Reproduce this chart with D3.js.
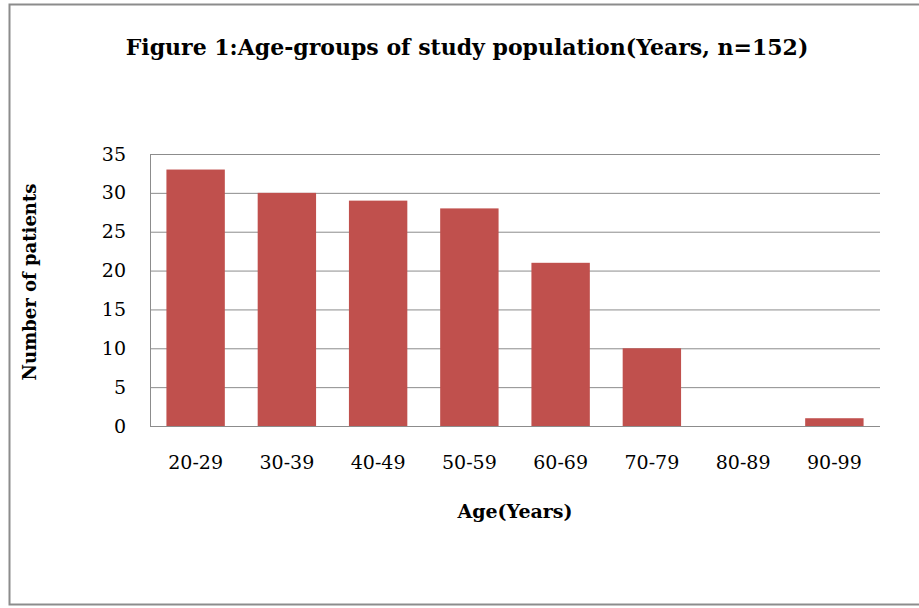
<!DOCTYPE html>
<html>
<head>
<meta charset="utf-8">
<script src="https://cdn.jsdelivr.net/npm/d3@7"></script>
<style>
  html, body { margin: 0; padding: 0; background: #fff; }
  svg { display: block; }
  text { font-family: "DejaVu Serif", "Liberation Serif", serif; fill: #000; }
</style>
</head>
<body>
<svg id="chart" width="919" height="608"></svg>
<script>
// data
const ageGroups = ["20-29", "30-39", "40-49", "50-59", "60-69", "70-79", "80-89", "90-99"];
const patients  = [33, 30, 29, 28, 21, 10, 0, 1];
const yTicks    = [0, 5, 10, 15, 20, 25, 30, 35];

const svg = d3.select("#chart");
const M = { top: 154, right: 39, bottom: 182, left: 150 };
const W = +svg.attr("width"), H = +svg.attr("height");
const innerW = W - M.left - M.right, innerH = H - M.top - M.bottom;

// outer frame (right edge runs off the picture)
svg.append("rect")
  .attr("x", 9.5).attr("y", 4.5).attr("width", 930).attr("height", 600)
  .attr("fill", "#fff").attr("stroke", "#8c8c8c").attr("stroke-width", 2);

svg.append("text")
  .attr("x", 467).attr("y", 55)
  .attr("text-anchor", "middle")
  .style("font-size", "22px").style("font-weight", "bold")
  .text("Figure 1:Age-groups of study population(Years, n=152)");

const g = svg.append("g").attr("transform", `translate(${M.left},${M.top})`);

const x = d3.scaleBand().domain(ageGroups).range([0, innerW]).paddingInner(0.36).paddingOuter(0.18);
const y = d3.scaleLinear().domain([0, 35]).range([innerH, 0]);

// gridlines
g.append("g")
  .call(d3.axisLeft(y).tickValues(yTicks).tickSize(-innerW).tickFormat(""))
  .call(a => a.select(".domain").remove())
  .selectAll("line").attr("stroke", "#8c8c8c");

// y labels
g.append("g")
  .call(d3.axisLeft(y).tickValues(yTicks).tickSize(0).tickPadding(24))
  .call(a => a.select(".domain").remove())
  .selectAll("text")
  .style("font-size", "19px").style("font-family", "DejaVu Serif, serif");

// left axis line
g.append("line")
  .attr("x1", 0.5).attr("x2", 0.5).attr("y1", 0).attr("y2", innerH)
  .attr("stroke", "#8c8c8c");

// bars
g.selectAll("rect.bar").data(patients).enter().append("rect")
  .attr("class", "bar")
  .attr("x", (d, i) => x(ageGroups[i]))
  .attr("width", x.bandwidth())
  .attr("y", d => y(d))
  .attr("height", d => innerH - y(d))
  .attr("fill", "#c0504d");

// x labels
g.append("g").attr("transform", `translate(0,${innerH})`)
  .call(d3.axisBottom(x).tickSize(0).tickPadding(30))
  .call(a => a.select(".domain").remove())
  .selectAll("text")
  .style("font-size", "19px").style("font-family", "DejaVu Serif, serif");

// bottom line
g.append("line")
  .attr("x1", 0).attr("x2", innerW).attr("y1", innerH + 0.5).attr("y2", innerH + 0.5)
  .attr("stroke", "#8c8c8c");

svg.append("text")
  .attr("x", 515).attr("y", 518)
  .attr("text-anchor", "middle")
  .style("font-size", "19px").style("font-weight", "bold")
  .text("Age(Years)");

svg.append("text")
  .attr("transform", `translate(36,${M.top + innerH / 2 - 8}) rotate(-90)`)
  .attr("text-anchor", "middle")
  .style("font-size", "18px").style("font-weight", "bold")
  .text("Number of patients");
</script>
</body>
</html>
